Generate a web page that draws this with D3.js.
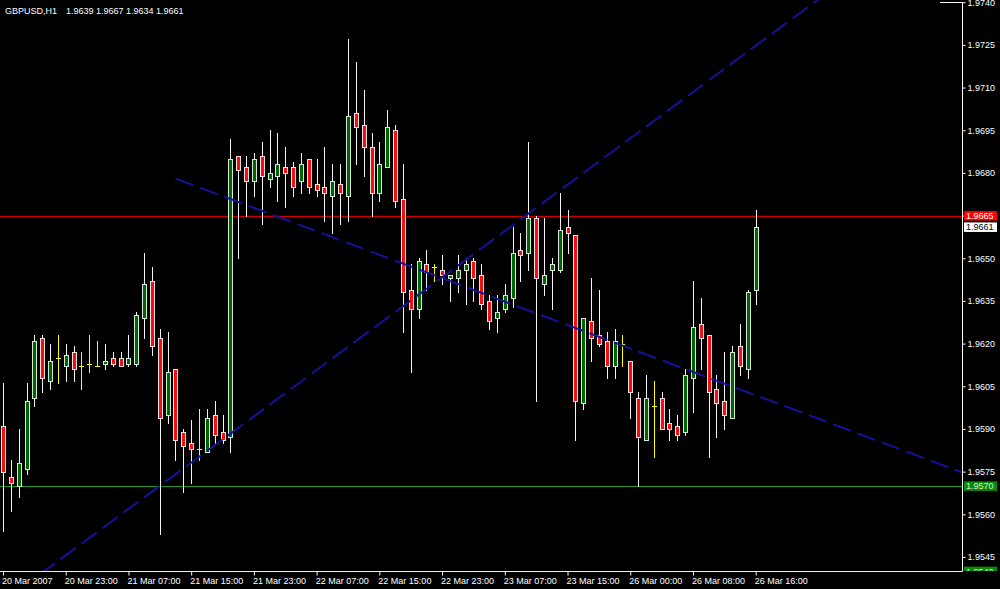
<!DOCTYPE html>
<html><head><meta charset="utf-8">
<script src="https://cdn.jsdelivr.net/npm/d3@7"></script>
<style>
body{margin:0;background:#000;}
svg{display:block;}
text{font-family:"Liberation Sans",Arial,sans-serif;font-size:9px;}
</style>
</head><body>
<svg id="c" width="1000" height="589"></svg>
<script>
// ---------------- DATA ----------------
const symbolTitle = "GBPUSD,H1";
const titleValues = "1.9639 1.9667 1.9634 1.9661";

const opens = [1.9591,1.9573,1.9570,1.9576,1.9601,1.9622,1.9607,1.9615,1.9612,1.9617,
1.9612,1.9613,1.9612,1.9613,1.9615,1.9615,1.9613,1.9613,1.9629,1.9642,
1.9622,1.9595,1.9611,1.9589,1.9585,1.9583,1.9582,1.9595,1.9589,1.9587,
1.9686,1.9682,1.9677,1.9686,1.9678,1.9679,1.9682,1.9682,1.9677,1.9685,
1.9676,1.9675,1.9672,1.9676,1.9672,1.9701,1.9697,1.9689,1.9673,1.9682,
1.9695,1.9671,1.9639,1.9632,1.9648,1.9647,1.9646,1.9643,1.9643,1.9646,
1.9649,1.9644,1.9635,1.9629,1.9632,1.9636,1.9653,1.9652,1.9664,1.9641,
1.9646,1.9646,1.9661,1.9658,1.9599,1.9628,1.9623,1.9621,1.9612,1.9620,
1.9614,1.9601,1.9586,1.9598,1.9601,1.9592,1.9591,1.9589,1.9608,1.9627,
1.9623,1.9604,1.9600,1.9594,1.9619,1.9611,1.9639];
const highs = [1.9606,1.9579,1.9590,1.9606,1.9623,1.9623,1.9620,1.9623,1.9620,1.9619,
1.9617,1.9623,1.9621,1.9620,1.9617,1.9617,1.9623,1.9631,1.9652,1.9647,
1.9625,1.9624,1.9611,1.9590,1.9593,1.9597,1.9597,1.9600,1.9595,1.9692,
1.9686,1.9686,1.9687,1.9691,1.9695,1.9694,1.9689,1.9684,1.9687,1.9685,
1.9685,1.9689,1.9683,1.9683,1.9727,1.9719,1.9709,1.9694,1.9691,1.9702,
1.9697,1.9683,1.9648,1.9650,1.9653,1.9648,1.9651,1.9644,1.9651,1.9650,
1.9650,1.9648,1.9637,1.9637,1.9641,1.9661,1.9659,1.9691,1.9665,1.9664,
1.9650,1.9673,1.9667,1.9658,1.9629,1.9643,1.9639,1.9624,1.9625,1.9623,
1.9614,1.9603,1.9609,1.9607,1.9603,1.9597,1.9595,1.9611,1.9642,1.9636,
1.9623,1.9609,1.9617,1.9619,1.9627,1.9639,1.9667];
const lows = [1.9554,1.9561,1.9566,1.9574,1.9598,1.9603,1.9604,1.9606,1.9607,1.9607,
1.9604,1.9610,1.9612,1.9611,1.9612,1.9612,1.9612,1.9612,1.9622,1.9616,
1.9553,1.9592,1.9579,1.9568,1.9571,1.9579,1.9582,1.9585,1.9585,1.9582,
1.9650,1.9665,1.9672,1.9662,1.9675,1.9670,1.9668,1.9672,1.9673,1.9673,
1.9672,1.9663,1.9659,1.9662,1.9663,1.9683,1.9679,1.9665,1.9670,1.9682,
1.9668,1.9624,1.9610,1.9629,1.9639,1.9642,1.9641,1.9635,1.9638,1.9634,
1.9635,1.9632,1.9625,1.9624,1.9631,1.9633,1.9642,1.9646,1.9600,1.9637,
1.9632,1.9645,1.9652,1.9586,1.9597,1.9614,1.9619,1.9608,1.9608,1.9612,
1.9594,1.9570,1.9586,1.9580,1.9590,1.9586,1.9586,1.9588,1.9596,1.9611,
1.9580,1.9587,1.9590,1.9594,1.9609,1.9608,1.9634];
const closes = [1.9575,1.9571,1.9578,1.9600,1.9621,1.9608,1.9614,1.9615,1.9616,1.9611,
1.9612,1.9613,1.9612,1.9614,1.9613,1.9612,1.9615,1.9630,1.9641,1.9619,
1.9594,1.9610,1.9586,1.9584,1.9583,1.9583,1.9594,1.9588,1.9586,1.9685,
1.9681,1.9677,1.9685,1.9679,1.9680,1.9683,1.9680,1.9675,1.9683,1.9675,
1.9674,1.9673,1.9677,1.9673,1.9700,1.9696,1.9689,1.9673,1.9683,1.9696,
1.9670,1.9638,1.9632,1.9649,1.9645,1.9647,1.9644,1.9644,1.9646,1.9648,
1.9643,1.9634,1.9628,1.9631,1.9637,1.9652,1.9651,1.9664,1.9643,1.9644,
1.9648,1.9660,1.9659,1.9600,1.9629,1.9622,1.9620,1.9612,1.9621,1.9620,
1.9603,1.9587,1.9601,1.9598,1.9590,1.9590,1.9588,1.9609,1.9626,1.9622,
1.9603,1.9599,1.9595,1.9617,1.9612,1.9638,1.9661];

const timeTickBars = [0,8,16,24,32,40,48,56,64,72,80,88,96];
const timeTickLabels = ["20 Mar 2007","20 Mar 23:00","21 Mar 07:00","21 Mar 15:00","21 Mar 23:00",
"22 Mar 07:00","22 Mar 15:00","22 Mar 23:00","23 Mar 07:00","23 Mar 15:00",
"26 Mar 00:00","26 Mar 08:00","26 Mar 16:00"];
const priceTicks = [1.9740,1.9725,1.9710,1.9695,1.9680,1.9665,1.9650,1.9635,1.9620,1.9605,1.9590,1.9575,1.9560,1.9545];

const resistancePrice = 1.9665;
const supportPrices = [1.9570, 1.9540];
const bidPrice = 1.9661;

const upTrendBars = [20, 76];
const upTrendPrices = [1.9570, 1.9684];
const downTrendBars = [22, 90];
const downTrendPrices = [1.9678, 1.9608];

// ---------------- LAYOUT ----------------
const W = 1000, H = 589;
const plotRight = 962, plotBottom = 571;
const svg = d3.select("#c");
svg.append("rect").attr("width", W).attr("height", H).attr("fill", "#000");

const n = opens.length;
const x = d3.scaleLinear().domain([0, 96]).range([3, 755.7]);
const y = d3.scaleLinear().domain([1.9540, 1.9740]).range([571.2, 2.2]);

svg.append("defs").append("clipPath").attr("id", "plot")
  .append("rect").attr("x", 0).attr("y", 0).attr("width", plotRight).attr("height", plotBottom);

const plot = svg.append("g").attr("clip-path", "url(#plot)");

// horizontal lines
plot.append("line").attr("x1", 0).attr("x2", plotRight)
  .attr("y1", Math.round(y(resistancePrice)) + 0.5).attr("y2", Math.round(y(resistancePrice)) + 0.5)
  .attr("stroke", "#c80000").attr("stroke-width", 1.5);
supportPrices.forEach(p => {
  const yy = Math.round(y(p)) + 0.5;
  plot.append("line").attr("x1", 0).attr("x2", plotRight).attr("y1", yy).attr("y2", yy)
    .attr("stroke", "#1e961e").attr("stroke-width", 1);
});

// candles
const candles = plot.append("g");
d3.range(n).forEach(i => {
  const o = opens[i], h = highs[i], l = lows[i], c = closes[i];
  const cx = Math.round(x(i)) + 0.5;
  const doji = o === c;
  const g = candles.append("g");
  g.append("line").attr("x1", cx).attr("x2", cx)
    .attr("y1", Math.round(y(h))).attr("y2", Math.round(y(l)) + 1)
    .attr("stroke", doji ? "#ffff00" : "#f4f4f4").attr("stroke-width", 1);
  if (doji) {
    const yy = Math.round(y(o)) + 0.5;
    g.append("line").attr("x1", cx - 2.5).attr("x2", cx + 2.5).attr("y1", yy).attr("y2", yy)
      .attr("stroke", "#ffff00").attr("stroke-width", 1);
  } else {
    const top = Math.round(y(Math.max(o, c))) + 0.5;
    const bot = Math.round(y(Math.min(o, c))) + 0.5;
    g.append("rect").attr("x", cx - 2).attr("width", 4)
      .attr("y", top).attr("height", Math.max(1, bot - top))
      .attr("fill", c > o ? "#006400" : "#f01010")
      .attr("stroke", c > o ? "#d8e8d8" : "#f4dede").attr("stroke-width", 1);
  }
});

// trend lines
function trend(bars, prices, fromBar, toBar) {
  const slope = (prices[1] - prices[0]) / (bars[1] - bars[0]);
  const p = b => prices[0] + slope * (b - bars[0]);
  plot.append("line")
    .attr("x1", x(fromBar)).attr("y1", y(p(fromBar)))
    .attr("x2", x(toBar)).attr("y2", y(p(toBar)))
    .attr("stroke", "#12129a").attr("stroke-width", 2)
    .attr("stroke-dasharray", "19,7");
}
trend(upTrendBars, upTrendPrices, -30, 140);
trend(downTrendBars, downTrendPrices, downTrendBars[0], 140);

// frame
svg.append("line").attr("x1", 0).attr("x2", plotRight + 0.5).attr("y1", plotBottom + 0.5).attr("y2", plotBottom + 0.5)
  .attr("stroke", "#e8f4e8").attr("stroke-width", 1);

// price axis
const yAxis = d3.axisRight(y).tickValues(priceTicks).tickFormat(d3.format(".4f"))
  .tickSize(3).tickSizeOuter(0).tickPadding(2);
const ya = svg.append("g").attr("transform", `translate(${plotRight + 0.5},0)`).call(yAxis);
ya.select(".domain").attr("stroke", "#fff").attr("d", `M0,2.2V${plotBottom + 0.5}`);
ya.selectAll(".tick line").attr("stroke", "#fff");
ya.selectAll(".tick text").attr("fill", "#fff").style("font-size", "9px")
  .style("font-family", "'Liberation Sans',Arial,sans-serif");
svg.append("line").attr("x1", 940).attr("x2", plotRight + 1).attr("y1", 2.5).attr("y2", 2.5)
  .attr("stroke", "#fff").attr("stroke-width", 1);

// time axis
const xAxis = d3.axisBottom(x).tickValues(timeTickBars).tickFormat((d, i) => timeTickLabels[i])
  .tickSize(4).tickSizeOuter(0).tickPadding(2);
const xa = svg.append("g").attr("transform", `translate(0,${plotBottom + 0.5})`).call(xAxis);
xa.select(".domain").remove();
xa.selectAll(".tick line").attr("stroke", "#fff");
xa.selectAll(".tick text").attr("fill", "#fff").attr("text-anchor", "start").attr("dx", -1.5)
  .style("font-size", "9px").style("font-family", "'Liberation Sans',Arial,sans-serif");

// price labels on the axis
const labels = svg.append("g");
function priceLabel(p, bg, fg, clip) {
  const yy = y(p);
  const g = labels.append("g");
  let top = yy - 4.5, hgt = 9.5;
  if (clip && top + hgt > plotBottom) hgt = plotBottom - top;
  g.append("rect").attr("x", 964).attr("y", top).attr("width", 33).attr("height", hgt).attr("fill", bg);
  if (!clip) {
    g.append("text").attr("x", 966).attr("y", yy + 3.3).attr("fill", fg).text(d3.format(".4f")(p));
  } else {
    g.append("clipPath").attr("id", "lc" + p).append("rect").attr("x", 964).attr("y", top).attr("width", 33).attr("height", hgt);
    g.append("text").attr("x", 966).attr("y", yy + 3.3).attr("fill", fg).attr("clip-path", `url(#lc${p})`).text(d3.format(".4f")(p));
  }
}
priceLabel(resistancePrice, "#ff0000", "#ffffff", false);
priceLabel(bidPrice, "#ffffff", "#000000", false);
priceLabel(supportPrices[0], "#0a8c0a", "#d8e8d8", false);
priceLabel(supportPrices[1], "#0a8c0a", "#d8e8d8", true);

// title
svg.append("text").attr("x", 5).attr("y", 14).attr("fill", "#fff").text(symbolTitle);
svg.append("text").attr("x", 66).attr("y", 14).attr("fill", "#fff").style("white-space", "pre").text(titleValues);
</script>
</body></html>
